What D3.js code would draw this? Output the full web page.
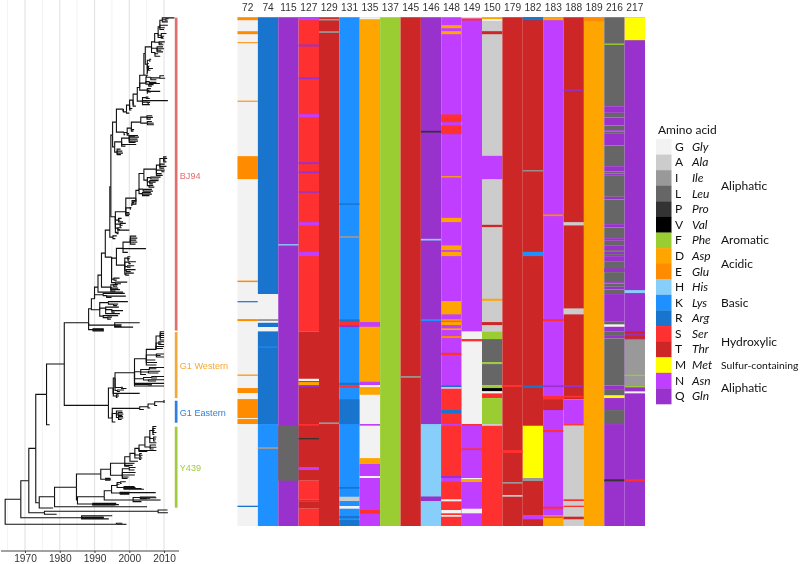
<!DOCTYPE html>
<html><head><meta charset="utf-8">
<script src="https://cdn.jsdelivr.net/npm/d3@7/dist/d3.min.js"></script>
<style>html,body{margin:0;padding:0;background:#fff}svg{display:block;filter:blur(0.4px)}</style>
</head><body><svg id="c" width="800" height="564"></svg>
<script>
const positions = ["72","74","115","127","129","131","135","137","145","146","148","149","150","179","182","183","188","189","216","217"];
const aminoCodes = ["G","A","I","L","P","V","F","D","E","H","K","R","S","T","M","N","Q"];
const aminoNames = ["Gly","Ala","Ile","Leu","Pro","Val","Phe","Asp","Glu","His","Lys","Arg","Ser","Thr","Met","Asn","Gln"];
const aminoColors = ["#f2f2f2","#cccccc","#999999","#666666","#333333","#000000","#9acd32","#ffa500","#ff8c00","#87cefa","#1e90ff","#1874cd","#ff3030","#cd2626","#ffff00","#bf3eff","#9932cc"];
const legendGroups = [["Aliphatic",2.5,12],["Aromatic",6,12],["Acidic",7.5,12],["Basic",10,12],["Hydroxylic",12.5,12],["Sulfur-containing",14,10.3],["Aliphatic",15.5,12]];
const axisYears = [1970,1980,1990,2000,2010];
const gridYears = [1965,1970,1975,1980,1985,1990,1995,2000,2005,2010];
const cladeLabels = ["BJ94","G1 Western","G1 Eastern","Y439"];
const cladeRanges = [[0.5,313.5],[315,381],[383.7,405.7],[409.7,490.7]];
const cladeColors = ["#e26d6d","#f2a935","#2f80dc","#9fcb3c"];
const cladeLabelRows = [158,348.7,395,450.5];

// each column: [amino acid, first row, last row]; later runs paint over earlier ones
const col72 = [["G",0,509],["E",0,3],["E",14,17],["E",25,26],["E",83.5,84.6],["E",139,162],["E",263.5,265],["R",284,285.2],["E",302,304],["E",357.5,358.7],["E",371,376],["E",382,401],["E",402,407],["R",488.7,490]];
const col74 = [["R",0,277],["G",277,302],["I",302,304],["G",304,305.7],["R",305.7,310],["G",310,314.3],["R",314.3,407],["K",407,509],["K",329.5,330.5],["I",430,432]];
const col115 = [["Q",0,509],["H",227,228.4],["L",408.7,463.7]];
const col127 = [["S",0,314.3],["N",0,3],["Q",27.3,29.3],["Q",60.3,62],["N",97,100.3],["Q",145,147],["Q",154.3,156],["Q",174.3,175.7],["N",205,208.3],["N",234.7,239],["T",314.3,463.7],["G",361.7,364],["D",365,368.3],["Q",368.3,370],["S",407,408.7],["P",421,422.3],["N",450,453],["S",463.7,482.3],["T",482.3,491.7],["S",483.7,485],["S",491.7,509]];
const col129 = [["T",0,509],["I",1.7,3.3],["I",14,15.7],["I",405.3,407]];
const col131 = [["K",0,509],["R",186.3,187.7],["I",219,220.7],["R",302.3,304.7],["S",304.7,308],["Q",308,310],["R",365.7,368],["S",368.7,370.3],["R",382.3,407],["R",470,471.7],["A",479.7,484],["G",489,491.7],["R",499,501.3],["R",503,509]];
const col135 = [["D",0,509],["G",0,2],["N",305,309.7],["N",364.7,368],["G",368,370],["G",377.7,407],["N",407,408.7],["G",408.7,441.3],["D",441.3,442.7],["D",443.7,447],["N",447,459],["G",459,461],["N",461,509],["S",493,496.7]];
const col137 = [["F",0,509]];
const col145 = [["T",0,509],["I",359,360.7]];
const col146 = [["Q",0,509],["P",113.7,115.4],["H",221.7,223.4],["K",302,304],["H",407,479.7],["Q",479.7,484],["H",484,509]];
const col148 = [["N",0,509],["D",8,11],["D",14,17],["S",97.3,105],["S",108.3,117],["D",159,160.3],["D",200.7,205],["D",228.3,233],["D",234.7,239],["D",284,297.3],["E",302,304],["D",304.7,308],["D",311.3,313],["E",319,321],["S",335.7,338],["R",368.3,370.3],["G",370.3,371.7],["S",371.7,393],["R",393,396.7],["S",396.7,407],["S",408.7,459],["Q",459,461],["S",464.7,509],["G",482.3,484.3],["G",493,496.3],["G",498,499.7]];
const col149 = [["N",0,509],["G",0,1.3],["S",1.3,3.3],["G",314.3,322],["S",322,324.3],["G",324.3,407],["S",407,408.7],["S",431.3,433],["G",461,462.5],["D",462.5,465],["G",491.7,496.3]];
const col150 = [["A",0,314.3],["D",0,2],["G",2,3.7],["T",14,17],["N",138.7,162],["T",207.7,210],["D",281.7,283.7],["T",305,308],["F",314.3,322],["L",322,345],["F",345,347],["L",347,368.3],["F",368.3,371],["V",371,374.3],["G",374.3,376.3],["S",376.3,381],["F",381,407],["A",407,408.7],["S",408.7,509]];
const col179 = [["T",0,509],["S",368,370],["S",433,436],["I",465,466.7],["A",478,479.7]];
const col182 = [["T",0,509],["R",0,3],["I",153,154.3],["K",234.7,239],["R",368.3,371],["M",408.7,461],["I",461,464],["N",498,502.3]];
const col183 = [["N",0,509],["D",0,3],["E",197.3,199],["S",302,304],["Q",368.3,370],["S",379,382.3],["T",382.3,393],["S",413,415],["S",489.7,491.7],["E",498,499.7],["D",501,509]];
const col188 = [["T",0,382.3],["Q",72.3,73.7],["A",205,208.3],["A",291.3,297.3],["Q",368.3,370],["S",378.7,380.5],["N",382.3,407],["S",407,408.7],["A",408.7,509],["S",482.3,484],["S",488.7,490],["T",499.7,502.3]];
const col189 = [["D",0,509],["E",0,4]];
const col216 = [["L",0,89],["F",26.3,27.7],["Q",89,95.7],["L",95.7,100.3],["Q",100.3,108.3],["L",108.3,113],["Q",113,114.5],["L",114.5,116],["Q",116,128.3],["L",128.3,149],["Q",149,154.3],["L",154.3,156.3],["Q",156.3,158.7],["L",158.7,179.7],["Q",179.7,182.3],["L",182.3,207],["Q",207,210.3],["L",210.3,221],["Q",221,223.7],["L",223.7,228.7],["Q",228.7,233],["L",233,234.7],["Q",234.7,237],["L",237,239],["Q",239,244.7],["L",244.7,255],["Q",251.3,255],["L",255,265],["Q",265,266.3],["L",266.3,269.7],["Q",269.7,272.3],["L",272.3,277],["Q",277,304.7],["L",304.7,307.3],["G",308,309.7],["Q",309.7,314.7],["L",314.7,318],["Q",318,321.3],["L",321.3,368.3],["Q",368.3,372],["L",372,378.3],["M",379,381],["Q",381,393],["L",393,407],["Q",407,509],["P",462.3,464.3]];
const col217 = [["Q",0,509],["M",0,23],["H",273,276],["T",314.3,317],["T",318.3,321.7],["I",322.3,368.3],["F",357.7,359],["F",368.3,370.3],["G",374.3,376.3],["S",462.3,464.3]];
const columnRuns = [col72,col74,col115,col127,col129,col131,col135,col137,col145,col146,col148,col149,col150,col179,col182,col183,col188,col189,col216,col217];

// tree nodes: [year of node, row of its branch, ...child nodes]
const cladeTop = [2004.6,36.3,
  [2006.4,29.7,
    [2007.3,24.7,
      [2008.3,16.3,
        [2008.8,9.7,
          [2009.5,3,[2013,0.7],[2011.1,4.7],[2010.5,2.5,[2011.3,1.5],[2011,3]]],
          [2011.1,8],[2010,12.3],[2010.2,10.5]],
        [2009.2,18,[2010.7,16.3],[2010,19],[2009.9,21]],
        [2009.7,20.3]],
      [2008.6,25,[2010.2,24.7],[2009.5,26],[2009.8,27.5]]],
    [2008,31,[2009.7,29.7],[2010,31.5],[2009.2,33],[2009.7,34.7]],
    [2007.4,35.3,[2008.9,39],[2008.3,36.5]]],
  [2005.2,47,
    [2005.9,43,[2006.3,42],[2006.1,44]],
    [2005.6,46.3],
    [2005.5,51,[2006.8,51.3],[2006.1,53],[2005.8,49]],
    [2005.4,54.7],[2004.9,56]]
];
const cladeUpper = [1999.2,94.7,
  [2000,96],
  [2000.1,88,
    [2000.9,91.3],[2000.6,92.8],
    [2001.1,83,
      [2001.9,89],[2001.4,87],
      [2002.3,77,
        [2003,70.3,
          [2004.2,58,cladeTop,
            [2004.9,58,[2005.4,58],[2005.1,59.5]]],
          [2004.8,66,
            [2006.2,60,[2008.8,60.7,[2010,58.5],[2010.3,61]],[2007.8,62.5]],
            [2005.8,64.5,[2008.8,66.3],[2007.8,65.2]],
            [2005.6,67,[2007,67.5],[2006.5,69]]],
          [2005.2,73,[2006.2,71.5],[2005.8,73.2],[2005.5,74.8,[2006.2,74.7],[2008.9,74.2]],[2005.2,76.5]]],
        [2003.8,84,
          [2004.9,80.5,[2005.5,80],[2005.9,81.3]],
          [2011.1,83.5],
          [2005.4,85,[2006,85.2],[2005.6,86.4]],
          [2005.9,87.5]]]]]
];
const cladeSecond = [1999.4,115.3,
  [1999.9,116.5],[2000,118],
  [2000.6,111,
    [2001.2,114],[2001.4,112.5],
    [2003.3,105,
      [2005.1,100,[2006.6,98.6],[2006.8,100.2],[2006.2,102]],
      [2005.2,106,[2007,106],[2007.1,107.6],[2006.5,104.4]]]]
];
const cladeThird = [1995.8,129.7,
  [1997.8,124.7,
    [2000,121,[2001.6,119],[2002.5,118.3],[2002.8,120],[2002.4,122],[2002.5,124],[2001.8,125.2]],
    [2002,127.3],[1998.9,129]],
  [1996.5,135,[1997.5,132],[1998,134],[1998.2,136],[1997.6,137.5]]
];
const cladeLad = [2004.2,156.3,
  [2007.8,152,
    [2008.8,148,
      [2009.9,141.3,[2010.7,139.7],[2010.9,141.3],[2010.4,143],[2010.7,144.7]],
      [2010.2,147],[2010.7,149.2],[2010,151]],
    [2009.4,153,[2010.2,153],[2010.1,154.6]],
    [2009.3,156.5],[2009.6,158.2]],
  [2005.2,163,
    [2006.2,160.5,[2009,160],[2008.5,161.8]],
    [2005.9,164.7,[2008.4,163.5],[2007.6,165],[2006.8,166.7]],
    [2005.7,168.5,[2006.9,168.3],[2007.2,170]]]
];
const cladeSecondBig = [1996,199.7,
  [1999,194.7,
    [2001.9,181,
      [2002.8,173.2,cladeLad,
        [2004,172,[2006.5,172.2],[2006.8,174]],
        [2003.8,176.5,[2006.2,175.5],[2006.5,177],[2005.8,178.5]]],
      [2000.8,184,[2002,183.5],[2001.5,185.3]],
      [2000.7,187,[2001.3,186.7],[2000.9,188.2]]],
    [2000.3,190.7,[2000.6,190.5],[2000.2,192]],
    [2000,195.5],[2000.2,197],[1999.9,198.5]],
  [1996.9,203,[1997.8,201.3],[1997.4,203],[1998.2,204.8]],
  [1997.4,207,[1999,206.3],[1998.1,208.2],[1997.2,209.7]],
  [1996.7,211,[1997.8,210.7],[2000,213],[1997.3,212.5]],
  [1996.5,215.5,[1997,215],[1996.9,216.5]]
];
const cladeJK = [1994.9,240,
  [1996.3,241,
    [1998.2,231.3,
      [2000.3,225,[2002,219],[2002.3,221],[2002,223],[2002.3,225],[2001.8,227]],
      [2004.8,231.5],
      [1999.6,235.3]],
    [1998.7,248,
      [1999.6,241,[2000.3,239.7],[2000.1,241.5],[1999.9,243]],
      [1999.9,245,[2001.9,244.7],[2000.4,246.5]],
      [1999.5,249.5,[2001.4,248.7],[2000.4,250]],
      [1999.1,253,[2001.8,252.5],[2000.4,254.5]],
      [1999,257,[2001.3,256],[1999.9,258]]]],
  [1995.6,262,[1997.2,261],[1996.4,263]],
  [1996,265.5,[1999.4,265],[1997.6,266.7]]
];
const cladeBJ94 = [1988.3,305.7,
  [1989.1,291.7,
    [1990,281.7,
      [1991,270,
        [1992,258,
          [1993.1,236,
            [1994.4,213,
              [1994.7,169.7,
                [1995.2,118,
                  [1996.3,105,
                    [1998.3,92,cladeUpper,[1998,93.5]],
                    [1998.5,115,cladeSecond,[1998.8,117.5]]],
                  cladeThird],
                cladeSecondBig],
              [1995.3,220,[1996.4,218.8],[1996,221.5]]],
            cladeJK],
          [1994.7,270,
            [1995.4,267.7,[1996.7,267.5],[1996.5,269]],
            [1996.8,271],[1997.3,272.5],[1996,274]]],
        [1998.2,275]],
      [1992.5,277.7,[1998.7,276.3],[1993.5,278.5,[1999,279],[1994.9,280.3]]]],
    [1991.5,292.7,
      [1994,285.5,[1999.6,284.5],[1995.5,287,[1996.8,287],[1996.5,288.5]]],
      [1993.2,291,[1997,290],[1995,292.5,[1998.2,293.5],[1995.8,295]],[1997.3,296.5]],
      [1992.5,299,[1996.8,298.5],[1993.8,300.5,[1995,300],[1994.7,302]]]]],
  [1995.8,308,
    [2003,305.7],[2001.1,310],
    [1997.8,307.8],[1997.6,308.7],[1997.8,309.4]],
  [1989.6,312.5,[1992.6,311.6],[1992.7,312.3],[1992.6,313],[1992.7,313.8]]
];
const cladeWestern = [1995.4,371,
  [1995.9,361,
    [2001.5,355.7,
      [2004.9,341.7,
        [2007.7,332.3,
          [2008.5,326,[2010,327.5],[2009.2,326],[2010,324.7]],
          [2008.9,319,[2010,323],[2010,320.5],[2010,318.5],[2010,316.5],[2010,314.7]],
          [2010,329.5],[2009.7,331.5]],
        [2007.8,338,[2010,337],[2009,338.5],[2010,340]],
        [2007.5,343],[2008,345.5],[2007.8,348]],
      [2003.3,354.7,
        [2005.8,352.5,[2007.8,351.7],[2010,350.5]],
        [2005.5,355,[2008.9,354.2],[2008.4,356]],
        [2004.8,357.5]],
      [2004.1,361.7,
        [2006.5,360.5,[2010,359.5],[2008,361]],
        [2005.5,363,[2010,362.7],[2007.7,364]]],
      [2010,366.3],
      [2010,369],
      [2005.5,367.5,[2006.5,367.2],[2006.5,367.9]]],
    [1997.8,370.5,[1998.2,370.2],[1999.2,371.5]],
    [1996.6,373.5,[1998.5,373],[1997.3,374.4]]],
  [2003,376.3],
  [1996.3,379,[1996.9,377.7],[1997,379],[1996.6,380.3]],
  [1996.2,376.5]
];
const cladeEastern = [1995.1,401,
  [2003,391.3,
    [2004.2,392.5],
    [2005.4,389.7,
      [2006,391],
      [2007.3,387,
        [2008,388.5],
        [2010,384.7,[2010,383],[2010,386]]]]],
  [1996.3,396.5,
    [1998,394],
    [1996.8,397,[1998.1,395.5],[1998.3,397],[1998,398.5]],
    [1996.9,400.5,[1998.2,399.5],[1998.3,401],[1997.8,402.5]]],
  [1996,405]
];
const cladeY439 = [1984.8,470.3,
  [1991.8,457,
    [1994.6,452.3,
      [1998.7,446.3,
        [2000.2,439.7,
          [2001.6,436.3,
            [2002.8,431.3,
              [2004.5,428,
                [2005.9,420,
                  [2006.8,413.5,[2007.8,409.5],[2007.6,411.5],[2007.3,413.5],[2007.8,415.5],[2007.2,417.5]],
                  [2007,421.5,[2007.8,420],[2007.7,422],[2007.5,424]],
                  [2007.8,425.7]],
                [2006,430,[2007.7,428],[2007.8,430.2],[2007,432]]],
              [2007.8,433.5],[2005.2,434.5]],
            [2003,438,[2003.6,436.5],[2003.8,438.2],[2003.4,439.8]],
            [2003,441,[2003.7,441],[2003.4,442.5]]],
          [2002.5,444.2]],
        [2001.5,446.3],[2001,448.4],[2000,449.3]],
      [1998,458.3,
        [2000,451.8,[2001.8,450.5],[2001.5,453]],
        [2001.8,455.5],[2001.6,458],[1999.8,460],[1999.5,461.4]]],
    [1993.2,462.3,[1994.6,461.4],[1994.7,462.3],[1994.6,463.2]]],
  [1985.1,483,
    [1992.8,479.7,
      [1994.9,473.7,
        [1996.5,468.5,
          [1997.5,465.5,[1999,464.8],[1997.8,466.5]],
          [1998.5,470.5,[2001.5,469.5],[2001.8,470.5],[2003.5,471.5],[2004.2,472.3]],
          [1997.2,467.3]],
        [1997.4,476,[2007.6,475.6],[2000,476.5],[2000,475.2],[2000,477.2]]],
      [2001.1,483,
        [2003.2,480.5,[2007.6,480],[2007.8,480.8],[2006,481.2],[2005,481.6]],
        [2009,483],
        [2003.5,484.6]]],
    [1989.5,487,
      [1996.2,486.4],[1996.3,487],[1997,487.6],[1996,488]]]
];
const treeData = [1964.3,495,
  [1968.8,482.3,
    [1971.1,463.7,
      [1973.1,431.3,
        [1976.2,377.3,
          [1981.3,347,cladeBJ94,
            [1994,388.3,cladeWestern,cladeEastern]],
          [1977.1,407.7]],
        [1974.1,485.7,
          [1978.5,479.7,cladeY439,[2005.1,489.7]],
          [1978.1,491]]],
      [1975.6,495.7,
        [2008.3,494.2,[2011,493],[2011.1,495.7]],
        [1979.1,497.3]]],
    [1986.3,500.7,
      [1995.1,498.7],
      [1992.6,500],[1992.7,500.6],[1992.6,501.2],
      [1994.1,501.9]]],
  [1996.3,507.3,[1999.2,507.3],[1998,506.2]]
];

const svg = d3.select("#c");
const font = "'Liberation Sans',Arial,sans-serif", legendFont = "Lato,'Open Sans',sans-serif";

const xYear = d3.scaleLinear().domain([1963.1,2014.3]).range([1,179]);
const yRow = d3.scaleLinear().domain([0,509]).range([17.2,526]);
const xPos = d3.scaleBand().domain(positions).range([237.5,645]);
const color = d3.scaleOrdinal().domain(aminoCodes).range(aminoColors);

// grid
svg.append("g").selectAll("line").data(gridYears).join("line")
  .attr("x1",d=>xYear(d)).attr("x2",d=>xYear(d)).attr("y1",0).attr("y2",551)
  .attr("stroke",d=>d%10===0?"#e4e4e4":"#efefef").attr("stroke-width",d=>d%10===0?1.2:0.8);

// tree
const root = d3.hierarchy(treeData,d=>d.slice(2).filter(Array.isArray));
svg.append("g").selectAll("path").data(root.links()).join("path")
  .attr("fill","none").attr("stroke","#111").attr("stroke-width",1.1)
  .attr("d",l=>{const p=d3.path();
    p.moveTo(xYear(l.source.data[0]),yRow(l.source.data[1]));
    p.lineTo(xYear(l.source.data[0]),yRow(l.target.data[1]));
    p.lineTo(xYear(l.target.data[0]),yRow(l.target.data[1]));
    return p.toString();});

// axis
const axis = svg.append("g").attr("transform","translate(0,551)")
  .call(d3.axisBottom(xYear).tickValues(axisYears).tickFormat(d3.format("d")).tickSize(2).tickPadding(2));
axis.selectAll("text").attr("font-family",font).attr("font-size",10.2).attr("fill","#333");
axis.selectAll("line").attr("stroke","#444");
axis.select(".domain").attr("stroke","#444").attr("d","M1,0H179");

// clade bars
svg.append("g").selectAll("rect").data(cladeRanges).join("rect")
  .attr("x",174.8).attr("width",2.7)
  .attr("y",d=>yRow(d[0])).attr("height",d=>yRow(d[1])-yRow(d[0]))
  .attr("fill",(d,i)=>cladeColors[i]);
svg.append("g").selectAll("text").data(cladeLabels).join("text")
  .attr("x",179.8).attr("y",(d,i)=>yRow(cladeLabelRows[i])+3.5)
  .attr("font-family",font).attr("font-size",9.1)
  .attr("fill",(d,i)=>cladeColors[i]).text(d=>d);

// heat map columns
const cols = svg.append("g").selectAll("g").data(columnRuns).join("g")
  .attr("transform",(d,i)=>`translate(${xPos(positions[i])},0)`);
cols.selectAll("rect").data(d=>d).join("rect")
  .attr("x",0).attr("width",xPos.bandwidth())
  .attr("y",d=>yRow(d[1])).attr("height",d=>yRow(d[2])-yRow(d[1]))
  .attr("fill",d=>color(d[0]));

svg.append("g").selectAll("text").data(positions).join("text")
  .attr("x",d=>xPos(d)+xPos.bandwidth()/2).attr("y",11)
  .attr("text-anchor","middle").attr("font-family",font).attr("font-size",10.2).attr("fill","#333").text(d=>d);

// legend
const yLeg = d3.scaleBand().domain(d3.range(aminoCodes.length)).range([139,404]);
const leg = svg.append("g");
leg.append("text").attr("x",658).attr("y",134).attr("font-family",legendFont).attr("font-size",12).attr("fill","#111").text("Amino acid");
leg.selectAll("rect").data(aminoCodes).join("rect")
  .attr("x",656).attr("width",15.5).attr("y",(d,i)=>yLeg(i)).attr("height",yLeg.bandwidth()+0.3)
  .attr("fill",d=>color(d));
leg.selectAll("text.c").data(aminoCodes).join("text").attr("class","c")
  .attr("x",675).attr("y",(d,i)=>yLeg(i)+yLeg.bandwidth()/2+4)
  .attr("font-family",legendFont).attr("font-size",12).attr("fill","#111").text(d=>d);
leg.selectAll("text.n").data(aminoNames).join("text").attr("class","n")
  .attr("x",692).attr("y",(d,i)=>yLeg(i)+yLeg.bandwidth()/2+4)
  .attr("font-family",legendFont).attr("font-style","italic").attr("font-size",12).attr("fill","#111").text(d=>d);
leg.selectAll("text.g").data(legendGroups).join("text").attr("class","g")
  .attr("x",721).attr("y",d=>yLeg(0)+(d[1]+0.5)*yLeg.step()+4)
  .attr("font-family",legendFont).attr("font-size",d=>d[2]).attr("fill","#111").text(d=>d[0]);
</script></body></html>
